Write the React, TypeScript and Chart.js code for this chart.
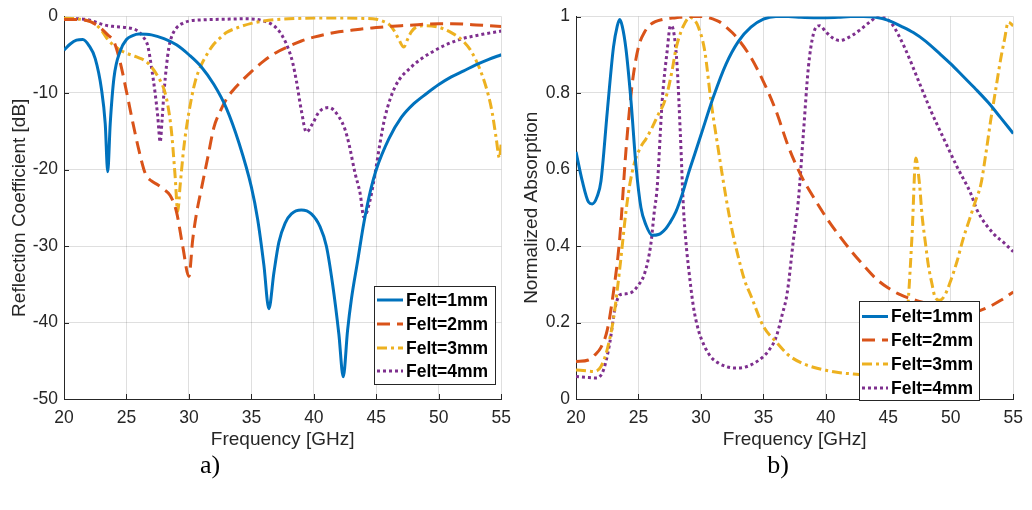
import React, { useEffect, useRef } from "react";
import { Chart, registerables } from "chart.js";

Chart.register(...registerables);

// ---------- shared ----------
const seriesLabels = ["Felt=1mm", "Felt=2mm", "Felt=3mm", "Felt=4mm"];
const seriesColors = ["#0072BD", "#D95319", "#EDB120", "#7E2F8E"];
const seriesDashes = [[], [13, 7], [10, 4, 3, 4], [3, 3]];
const freqTicks = [20, 25, 30, 35, 40, 45, 50, 55];
const reflTicks = [-50, -40, -30, -20, -10, 0];
const absTicks = [0, 0.2, 0.4, 0.6, 0.8, 1];
const absTickLabels = ["0", "0.2", "0.4", "0.6", "0.8", "1"];
const freqTitle = "Frequency [GHz]";
const reflTitle = "Reflection Coefficient [dB]";
const absTitle = "Normalized Absorption";
const captions = ["a)", "b)"];

// ---------- (a) Reflection coefficient [dB] ----------
const reflFreq1 = [20, 20.5, 21, 21.5, 22, 22.5, 23, 23.3, 23.5, 23.7, 24, 24.5, 25, 25.5, 26, 27, 28, 29, 30, 31, 32, 33, 34, 35, 35.5, 36, 36.4, 36.8, 37.2, 37.7, 38.2, 39, 39.8, 40.5, 41, 41.5, 42, 42.35, 42.7, 43, 43.5, 44, 44.5, 45, 46, 47, 48, 49, 50, 51, 52, 53, 54, 55];
const reflFelt1 = [-4.4, -3.6, -3.1, -3.0, -3.8, -5.5, -9.5, -14, -20.3, -14, -8, -4.5, -3.0, -2.5, -2.3, -2.4, -2.9, -3.7, -5.0, -6.6, -8.9, -12.0, -16.5, -22.3, -26.5, -32.5, -38.2, -33.5, -29.5, -27, -25.8, -25.3, -25.8, -27.5, -30, -35, -41.5, -47.1, -41, -37, -32, -27, -23, -20, -16, -13.2, -11.4, -10.1, -8.9, -7.9, -7.1, -6.3, -5.6, -5.0];

const reflFreq2 = [20, 21, 22, 22.5, 23, 23.5, 24, 24.5, 25, 25.5, 26, 26.5, 27, 27.5, 28, 28.5, 29, 29.5, 30, 30.3, 30.6, 31, 31.5, 32, 32.5, 33, 33.5, 34, 35, 36, 37, 38, 39, 40, 41, 42, 43, 44, 45, 46, 47, 48, 49, 50, 51, 52, 53, 54, 55];
const reflFelt2 = [-0.4, -0.4, -0.6, -1.0, -1.6, -2.4, -3.3, -6, -9.8, -13.8, -17.5, -20.5, -21.5, -22, -22.6, -23.4, -25.5, -30, -34.0, -29.2, -25.8, -22.5, -18.5, -14.5, -12.4, -10.8, -9.7, -8.8, -7.2, -5.8, -4.7, -3.9, -3.2, -2.7, -2.3, -2.0, -1.8, -1.6, -1.45, -1.3, -1.2, -1.1, -1.0, -0.95, -0.95, -1.0, -1.1, -1.2, -1.3];

const reflFreq3 = [20, 21, 22, 22.5, 23, 23.5, 24, 24.5, 25, 25.5, 26, 26.5, 27, 27.5, 28, 28.3, 28.6, 28.9, 29.1, 29.3, 29.6, 30, 30.5, 31, 31.5, 32, 32.5, 33, 34, 35, 36, 37, 38, 40, 42, 44, 45, 45.5, 46, 46.4, 46.8, 47.2, 47.5, 47.8, 48.3, 49, 50, 50.5, 51, 51.5, 52, 52.5, 53, 53.5, 54, 54.3, 54.6, 54.85, 55];
const reflFelt3 = [-0.2, -0.3, -0.6, -1.0, -1.8, -3.0, -3.8, -4.4, -4.8, -5.1, -5.4, -5.8, -6.6, -7.8, -9.5, -11.5, -15, -21, -25.5, -22, -17, -12.5, -8.5, -6.3, -4.8, -3.6, -2.8, -2.1, -1.4, -0.9, -0.6, -0.4, -0.3, -0.2, -0.2, -0.25, -0.35, -0.6, -1.0, -1.8, -3.0, -4.0, -3.0, -2.0, -1.3, -1.2, -1.4, -1.7, -2.1, -2.6, -3.3, -4.3, -5.8, -7.8, -10.5, -12.8, -16, -18.5, -16.5];

const reflFreq4 = [20, 21, 22, 22.5, 23, 23.5, 24, 25, 25.5, 26, 26.4, 26.7, 27, 27.3, 27.5, 27.7, 27.85, 28, 28.2, 28.4, 28.6, 29, 29.5, 30, 31, 33, 34.7, 35.5, 36, 36.5, 37, 37.5, 38, 38.3, 38.6, 39, 39.4, 39.9, 40.4, 41.2, 42, 42.5, 42.8, 43.3, 43.7, 44, 44.5, 44.9, 45.3, 45.7, 46.5, 47.8, 49.4, 51.5, 53.6, 55];
const reflFelt4 = [-0.3, -0.3, -0.45, -0.7, -1.0, -1.2, -1.3, -1.45, -1.6, -2.0, -2.8, -3.8, -6.6, -10.1, -13, -16.4, -13.5, -10, -6.5, -4.0, -2.7, -1.5, -0.9, -0.6, -0.45, -0.35, -0.3, -0.4, -0.6, -0.9, -1.5, -2.6, -4.4, -6.0, -8.4, -12.3, -15.1, -14.0, -12.5, -11.9, -13.1, -14.8, -16.6, -20.5, -23.1, -26.2, -24, -20.5, -16.5, -13.1, -9.2, -6.6, -4.7, -3.1, -2.3, -1.9];

// ---------- (b) Normalized absorption ----------
const absFreq1 = [20, 20.5, 21, 21.3, 21.7, 22, 22.5, 23, 23.3, 23.5, 23.7, 24, 24.4, 24.8, 25.2, 25.6, 26.1, 26.6, 27.2, 27.5, 28, 28.5, 29, 29.5, 30, 31, 32, 33, 34, 35, 36, 37, 38, 39, 40, 41, 42, 43, 44, 45, 46, 47, 48, 49, 50, 51, 52, 53, 54, 55];
const absFelt1 = [0.646, 0.57, 0.515, 0.51, 0.53, 0.57, 0.75, 0.92, 0.975, 0.992, 0.975, 0.915, 0.78, 0.61, 0.5, 0.455, 0.428, 0.43, 0.446, 0.46, 0.49, 0.535, 0.59, 0.64, 0.69, 0.79, 0.875, 0.935, 0.972, 0.993, 1.0, 1.0, 0.998, 0.997, 0.997, 0.998, 1.0, 1.0, 0.998, 0.99, 0.975, 0.958, 0.935, 0.906, 0.876, 0.843, 0.81, 0.775, 0.735, 0.694];

const absFreq2 = [20, 21, 21.5, 22, 22.5, 23, 23.5, 24, 24.5, 25, 25.5, 26, 27, 28, 29, 30, 30.5, 31, 31.5, 32, 32.5, 33, 34, 35, 36, 37, 38, 39, 40, 41, 42, 43, 44, 45, 46, 47, 48, 49, 50, 51, 52, 53, 54, 55];
const absFelt2 = [0.098, 0.102, 0.115, 0.135, 0.18, 0.28, 0.42, 0.65, 0.824, 0.92, 0.96, 0.98, 0.993, 0.997, 1.0, 1.0, 0.998, 0.993, 0.986, 0.973, 0.958, 0.94, 0.893, 0.83, 0.754, 0.66, 0.585, 0.528, 0.476, 0.43, 0.388, 0.35, 0.315, 0.29, 0.272, 0.26, 0.25, 0.241, 0.232, 0.226, 0.228, 0.24, 0.258, 0.28];

const absFreq3 = [20, 21, 21.4, 22, 22.5, 23, 23.5, 24, 24.3, 24.7, 25.2, 25.6, 26.1, 26.6, 27, 27.3, 27.7, 28, 28.4, 28.7, 29.1, 29.5, 29.8, 30.3, 30.8, 31.4, 32, 32.5, 33, 33.5, 34, 35, 36, 37, 38, 39, 40, 41, 42, 43, 44, 45, 45.5, 46, 46.3, 46.6, 46.9, 47.2, 47.5, 47.7, 48, 48.2, 48.5, 48.7, 49.1, 49.5, 50, 50.5, 51, 51.5, 52, 52.4, 52.8, 53.2, 53.6, 54, 54.3, 54.6, 55];
const absFelt3 = [0.076, 0.073, 0.072, 0.085, 0.13, 0.21, 0.34, 0.49, 0.56, 0.62, 0.66, 0.68, 0.71, 0.745, 0.77, 0.8, 0.86, 0.915, 0.96, 0.982, 0.998, 0.99, 0.972, 0.911, 0.78, 0.65, 0.528, 0.44, 0.37, 0.31, 0.27, 0.19, 0.15, 0.115, 0.095, 0.083, 0.075, 0.069, 0.066, 0.064, 0.064, 0.07, 0.08, 0.1, 0.14, 0.26, 0.43, 0.63, 0.56, 0.48, 0.4, 0.35, 0.3, 0.27, 0.258, 0.27, 0.31, 0.36, 0.42, 0.47, 0.52, 0.56, 0.64, 0.73, 0.81, 0.89, 0.94, 0.985, 0.976];

const absFreq4 = [20, 21, 21.65, 22.2, 22.7, 23.1, 23.5, 24, 24.5, 24.9, 25.5, 26, 26.25, 26.5, 26.9, 27.3, 27.56, 27.8, 28.1, 28.35, 28.6, 28.8, 29, 29.4, 29.8, 30.3, 30.8, 31.4, 32, 32.7, 33.3, 34, 35, 35.5, 36, 36.5, 36.9, 37.4, 37.8, 38.2, 38.6, 39, 39.5, 40, 40.5, 41.1, 41.8, 42.65, 43.5, 44.2, 44.8, 45.3, 46.3, 47.4, 48.4, 49.5, 50.5, 51.6, 52.1, 53.4, 54.2, 55];
const absFelt4 = [0.059, 0.056, 0.055, 0.076, 0.146, 0.233, 0.272, 0.275, 0.28, 0.294, 0.329, 0.407, 0.485, 0.554, 0.78, 0.911, 0.976, 0.963, 0.867, 0.694, 0.5, 0.41, 0.346, 0.241, 0.18, 0.137, 0.11, 0.094, 0.085, 0.081, 0.082, 0.089, 0.111, 0.13, 0.16, 0.22, 0.276, 0.415, 0.52, 0.694, 0.867, 0.954, 0.976, 0.96, 0.945, 0.937, 0.945, 0.963, 0.985, 1.0, 0.995, 0.98, 0.919, 0.833, 0.754, 0.676, 0.607, 0.537, 0.494, 0.433, 0.41, 0.385];

const reflSeries = [
  [reflFreq1, reflFelt1],
  [reflFreq2, reflFelt2],
  [reflFreq3, reflFelt3],
  [reflFreq4, reflFelt4],
];
const absSeries = [
  [absFreq1, absFelt1],
  [absFreq2, absFelt2],
  [absFreq3, absFelt3],
  [absFreq4, absFelt4],
];

const FONT = "'Liberation Sans', Arial, Helvetica, sans-serif";
const TEXT = "#262626";

const innerTicks = {
  id: "innerTicks",
  beforeDatasetsDraw(chart: any) {
    const { ctx, chartArea, scales } = chart;
    ctx.save();
    ctx.strokeStyle = TEXT;
    ctx.lineWidth = 1;
    ctx.setLineDash([]);
    scales.x.ticks.forEach((t: any) => {
      const x = Math.round(scales.x.getPixelForValue(t.value)) + 0.5;
      ctx.beginPath();
      ctx.moveTo(x, chartArea.bottom);
      ctx.lineTo(x, chartArea.bottom - 5);
      ctx.stroke();
    });
    scales.y.ticks.forEach((t: any) => {
      const y = Math.round(scales.y.getPixelForValue(t.value)) + 0.5;
      ctx.beginPath();
      ctx.moveTo(chartArea.left, y);
      ctx.lineTo(chartArea.left + 5, y);
      ctx.stroke();
    });
    ctx.restore();
  },
};

const boxLegend = {
  id: "boxLegend",
  afterDraw(chart: any, _args: any, opts: any) {
    const { ctx } = chart;
    const { x, y, w, h, rows, sx0, sx1, tx } = opts;
    ctx.save();
    ctx.fillStyle = "#ffffff";
    ctx.fillRect(x, y, w, h);
    ctx.strokeStyle = TEXT;
    ctx.lineWidth = 1;
    ctx.setLineDash([]);
    ctx.strokeRect(x + 0.5, y + 0.5, w, h);
    chart.data.datasets.forEach((ds: any, i: number) => {
      const cy = y + rows[i];
      ctx.beginPath();
      ctx.setLineDash(ds.borderDash || []);
      ctx.strokeStyle = ds.borderColor;
      ctx.lineWidth = ds.borderWidth;
      ctx.lineCap = "butt";
      ctx.moveTo(sx0, cy);
      ctx.lineTo(sx1, cy);
      ctx.stroke();
      ctx.setLineDash([]);
      ctx.fillStyle = "#000000";
      ctx.font = `bold 17.5px ${FONT}`;
      ctx.textBaseline = "middle";
      ctx.textAlign = "left";
      ctx.fillText(ds.label, tx, cy + 1);
    });
    ctx.restore();
  },
};

function makeConfig(
  series: number[][][],
  yMin: number,
  yMax: number,
  yTicks: number[],
  yLabels: (string | null)[],
  yTitle: string,
  yWidth: number,
  yTitlePad: number,
  legend: any
): any {
  return {
    type: "line",
    data: {
      datasets: series.map(([fx, fy], i) => ({
        label: seriesLabels[i],
        data: fx.map((f, k) => ({ x: f, y: fy[k] })),
        borderColor: seriesColors[i],
        backgroundColor: seriesColors[i],
        borderDash: seriesDashes[i],
        borderWidth: 3,
        borderCapStyle: "butt",
        pointRadius: 0,
        fill: false,
        cubicInterpolationMode: "monotone",
      })),
    },
    options: {
      responsive: false,
      animation: false,
      devicePixelRatio: 1,
      layout: { padding: { left: 0, right: 12, top: 16, bottom: 0 } },
      plugins: {
        legend: { display: false },
        tooltip: { enabled: false },
        boxLegend: legend,
      },
      scales: {
        x: {
          type: "linear",
          min: 20,
          max: 55,
          afterBuildTicks: (s: any) => {
            s.ticks = freqTicks.map((v) => ({ value: v }));
          },
          afterFit: (s: any) => {
            s.height = 61;
          },
          grid: { color: "rgba(38,38,38,0.15)", drawTicks: false, lineWidth: 1 },
          border: { display: true, color: TEXT, width: 1 },
          ticks: {
            padding: 9,
            color: TEXT,
            font: { family: FONT, size: 17.5 },
            maxRotation: 0,
            autoSkip: false,
            callback: (v: any) => String(v),
          },
          title: {
            display: true,
            text: freqTitle,
            color: TEXT,
            font: { family: FONT, size: 19 },
            padding: { top: 0, bottom: 9 },
          },
        },
        y: {
          type: "linear",
          min: yMin,
          max: yMax,
          afterBuildTicks: (s: any) => {
            s.ticks = yTicks.map((v) => ({ value: v }));
          },
          afterFit: (s: any) => {
            s.width = yWidth;
          },
          grid: { color: "rgba(38,38,38,0.15)", drawTicks: false, lineWidth: 1 },
          border: { display: true, color: TEXT, width: 1 },
          ticks: {
            padding: 6,
            color: TEXT,
            font: { family: FONT, size: 17.5 },
            autoSkip: false,
            callback: (_v: any, i: number) => yLabels[i],
          },
          title: {
            display: true,
            text: yTitle,
            color: TEXT,
            font: { family: FONT, size: 19 },
            padding: { top: yTitlePad, bottom: 0 },
          },
        },
      },
    },
    plugins: [innerTicks, boxLegend],
  };
}

function ChartPanel({ left, width, height, build }: { left: number; width: number; height: number; build: () => any }) {
  const ref = useRef<HTMLCanvasElement | null>(null);
  useEffect(() => {
    if (!ref.current) return;
    const chart = new Chart(ref.current, build());
    return () => chart.destroy();
  }, []);
  return (
    <canvas
      ref={ref}
      width={width}
      height={height}
      style={{ position: "absolute", left, top: 0, width, height, display: "block" }}
    />
  );
}

export default function App() {
  const reflLabels = reflTicks.map((v) => String(v));
  const buildA = () =>
    makeConfig(reflSeries, -50, 0, reflTicks, reflLabels, reflTitle, 64, 8, {
      x: 374,
      y: 286,
      w: 121,
      h: 98,
      rows: [14, 38, 62, 85],
      sx0: 377,
      sx1: 403,
      tx: 406,
    });
  const buildB = () =>
    makeConfig(absSeries, 0, 1, absTicks, absTickLabels, absTitle, 56, 0, {
      x: 339,
      y: 301,
      w: 120,
      h: 99,
      rows: [15.5, 39, 63, 87],
      sx0: 342,
      sx1: 368,
      tx: 371,
    });
  const capStyle: React.CSSProperties = {
    position: "absolute",
    top: 452,
    width: 60,
    textAlign: "center",
    fontFamily: "'Liberation Serif', 'Times New Roman', serif",
    fontSize: 26,
    lineHeight: "26px",
    color: "#000",
  };
  return (
    <div style={{ position: "absolute", left: 0, top: 0, width: 1032, height: 510, background: "#fff", overflow: "hidden" }}>
      <ChartPanel left={0} width={520} height={460} build={buildA} />
      <ChartPanel left={520} width={512} height={460} build={buildB} />
      <div style={{ ...capStyle, left: 180 }}>{captions[0]}</div>
      <div style={{ ...capStyle, left: 748 }}>{captions[1]}</div>
    </div>
  );
}
